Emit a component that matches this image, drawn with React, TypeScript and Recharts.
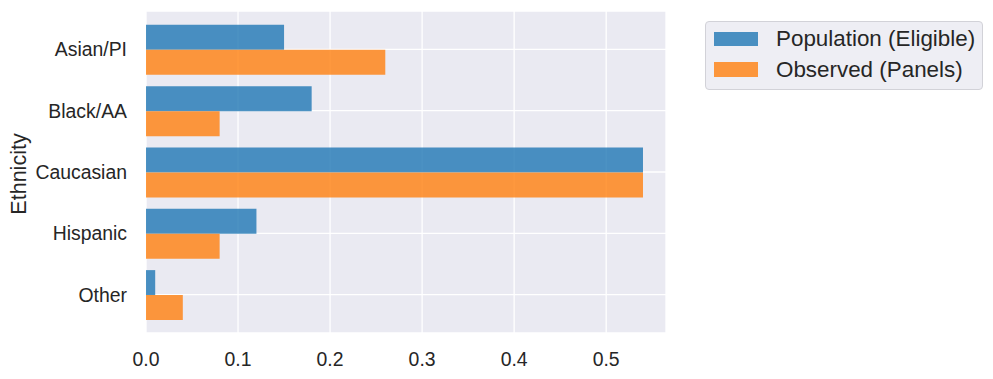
import React from 'react'
import { BarChart, Bar, XAxis, YAxis, CartesianGrid, Legend } from 'recharts'

const categories = ['Asian/PI', 'Black/AA', 'Caucasian', 'Hispanic', 'Other']
const population = [0.15, 0.18, 0.54, 0.12, 0.01]
const observed = [0.26, 0.08, 0.54, 0.08, 0.04]
const xTicks = [0, 0.1, 0.2, 0.3, 0.4, 0.5]

const SERIES = [
  { key: 'population', name: 'Population (Eligible)', color: '#1f77b4' },
  { key: 'observed', name: 'Observed (Panels)', color: '#ff7f0e' },
]

const data = categories.map((c, i) => ({ name: c, population: population[i], observed: observed[i] }))

const FONT = '"Liberation Sans", Arial, sans-serif'
const TEXT = '#262626'

function LegendBox() {
  return (
    <div
      style={{
        width: 276,
        height: 67,
        boxSizing: 'content-box',
        background: '#eeeef4',
        border: '1px solid #d2d2d8',
        borderRadius: 4,
        fontFamily: FONT,
        fontSize: 22.4,
        color: TEXT,
        position: 'relative',
      }}
    >
      {SERIES.map((s, i) => (
        <div key={s.key} style={{ position: 'absolute', left: 8, top: 2 + i * 30.5, height: 30, display: 'flex', alignItems: 'center' }}>
          <span style={{ display: 'inline-block', width: 44, height: 14.5, background: s.color, opacity: 0.8 }} />
          <span style={{ marginLeft: 18, whiteSpace: 'nowrap' }}>{s.name}</span>
        </div>
      ))}
    </div>
  )
}

export default function App() {
  return (
    <div style={{ position: 'absolute', left: 0, top: 0, background: '#fff' }}>
      <BarChart
        width={993}
        height={379}
        data={data}
        layout="vertical"
        margin={{ top: 11, right: 327, bottom: 0, left: 0 }}
        barCategoryGap="10%"
        barGap={0}
      >
        <CartesianGrid fill="#eaeaf2" stroke="#ffffff" strokeWidth={1.3} />
        <XAxis
          type="number"
          domain={[0, 0.565]}
          ticks={xTicks}
          tickFormatter={(v: number) => v.toFixed(1)}
          axisLine={false}
          tickLine={false}
          tickSize={0}
          tickMargin={19}
          height={46}
          tick={{ fill: TEXT, fontSize: 19.4, fontFamily: FONT }}
        />
        <YAxis
          type="category"
          dataKey="name"
          width={146}
          axisLine={false}
          tickLine={false}
          tickSize={0}
          tickMargin={19}
          padding={{ top: 7.7, bottom: 7.7 }}
          tick={{ fill: TEXT, fontSize: 19.4, fontFamily: FONT }}
          label={{
            content: () => (
              <text
                x={26}
                y={174}
                transform="rotate(-90 26 174)"
                textAnchor="middle"
                fill={TEXT}
                fontSize={21.5}
                fontFamily={FONT}
              >
                Ethnicity
              </text>
            ),
          }}
        />
        {SERIES.map((s) => (
          <Bar key={s.key} dataKey={s.key} name={s.name} fill={s.color} fillOpacity={0.8} isAnimationActive={false} />
        ))}
        <Legend
          layout="vertical"
          align="center"
          verticalAlign="middle"
          wrapperStyle={{ left: 705, top: 21, width: 278 }}
          content={() => <LegendBox />}
        />
      </BarChart>
    </div>
  )
}
